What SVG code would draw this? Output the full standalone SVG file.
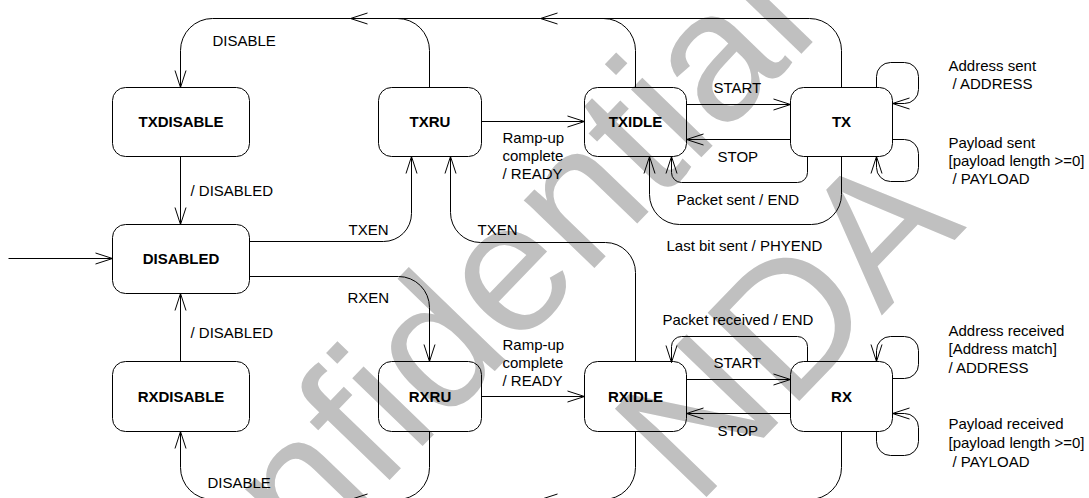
<svg xmlns="http://www.w3.org/2000/svg" width="1089" height="498" viewBox="0 0 1089 498">
<style>
.n{fill:none;stroke:#000;stroke-width:1}
.c{fill:none;stroke:#000;stroke-width:1}
.nl{font-family:"Liberation Sans",Arial,sans-serif;font-size:15px;font-weight:bold;text-anchor:middle;fill:#000}
.l{font-family:"Liberation Sans",Arial,sans-serif;font-size:15px;fill:#000}
.wm{font-family:"Liberation Sans",Arial,sans-serif;font-size:185px;fill:#c0c0c0}
</style>
<defs>
<marker id="a" markerUnits="userSpaceOnUse" orient="auto" markerWidth="40" markerHeight="40" viewBox="-20 -20 40 40" refX="0" refY="0" overflow="visible">
<path d="M-17,-5.5 L0,0 L-17,5.5" fill="none" stroke="#000" stroke-width="1"/>
</marker>
</defs>
<rect width="1089" height="498" fill="#fff"/>
<g id="watermark">
<text class="wm" transform="translate(142.5,736) rotate(-46)">Confidential</text>
<text class="wm" transform="translate(696,508) rotate(-46)">NDA</text>
</g>
<g transform="translate(0.5,0.5)">
<g id="connectors">
<path class="c" d="M8,258 H112" marker-end="url(#a)"/>
<path class="c" d="M180,156 V224" marker-end="url(#a)"/>
<path class="c" d="M180,361 V293" marker-end="url(#a)"/>
<path class="c" d="M249,241 H383 A28,28 0 0 0 411,213 V156" marker-end="url(#a)"/>
<path class="c" d="M249,276 H398 A31,31 0 0 1 429,307 V361" marker-end="url(#a)"/>
<path class="c" d="M635,361 V272 A30,30 0 0 0 605,242 H480 A30,30 0 0 1 450,212 V156" marker-end="url(#a)"/>
<path class="c" d="M481,121 H584" marker-end="url(#a)"/>
<path class="c" d="M481,396 H584" marker-end="url(#a)"/>
<path class="c" d="M686,104 H790" marker-end="url(#a)"/>
<path class="c" d="M790,139 H686" marker-end="url(#a)"/>
<path class="c" d="M686,379 H790" marker-end="url(#a)"/>
<path class="c" d="M790,413 H686" marker-end="url(#a)"/>
<path class="c" d="M807,156 V172 A10,10 0 0 1 797,182 H681 A10,10 0 0 1 671,172 V156" marker-end="url(#a)"/>
<path class="c" d="M841,156 V194 A30,30 0 0 1 811,224 H679 A30,30 0 0 1 649,194 V156" marker-end="url(#a)"/>
<path class="c" d="M807,361 V346 A10,10 0 0 0 797,336 H681 A10,10 0 0 0 671,346 V362" marker-end="url(#a)"/>
<path class="c" d="M841,87 V50 A32,32 0 0 0 809,18 H540" marker-end="url(#a)"/>
<path class="c" d="M635,87 V50 A32,32 0 0 0 603,18"/>
<path class="c" d="M540,18 H350" marker-end="url(#a)"/>
<path class="c" d="M429,87 V50 A32,32 0 0 0 397,18"/>
<path class="c" d="M350,18 H212 A32,32 0 0 0 180,50 V87" marker-end="url(#a)"/>
<path class="c" d="M841,431 V467 A32,32 0 0 1 809,499 H540" marker-end="url(#a)"/>
<path class="c" d="M635,431 V467 A32,32 0 0 1 603,499"/>
<path class="c" d="M540,499 H350" marker-end="url(#a)"/>
<path class="c" d="M429,431 V467 A32,32 0 0 1 397,499"/>
<path class="c" d="M350,499 H212 A32,32 0 0 1 180,467 V431" marker-end="url(#a)"/>
<path class="c" d="M876,87 V76 A14,14 0 0 1 890,62 H904 A14,14 0 0 1 918,76 V89 A14,14 0 0 1 904,103 H892" marker-end="url(#a)"/>
<path class="c" d="M892,139 H904 A14,14 0 0 1 918,153 V167 A14,14 0 0 1 904,181 H890 A14,14 0 0 1 876,167 V156" marker-end="url(#a)"/>
<path class="c" d="M892,378 H904 A14,14 0 0 0 918,364 V350 A14,14 0 0 0 904,336 H890 A14,14 0 0 0 876,350 V361" marker-end="url(#a)"/>
<path class="c" d="M876,431 V441 A14,14 0 0 0 890,455 H904 A14,14 0 0 0 918,441 V427 A14,14 0 0 0 904,413 H892" marker-end="url(#a)"/>
</g>
<g id="labels">
<text class="l" x="212" y="45">DISABLE</text>
<text class="l" x="190" y="195">/ DISABLED</text>
<text class="l" x="348" y="234">TXEN</text>
<text class="l" x="477" y="234">TXEN</text>
<text class="l" x="347" y="302">RXEN</text>
<text class="l" x="190" y="337">/ DISABLED</text>
<text class="l" x="207" y="487">DISABLE</text>
<text class="l" x="502" y="142">Ramp-up</text>
<text class="l" x="502" y="160">complete</text>
<text class="l" x="502" y="178">/ READY</text>
<text class="l" x="502" y="349">Ramp-up</text>
<text class="l" x="502" y="367">complete</text>
<text class="l" x="502" y="385">/ READY</text>
<text class="l" x="713" y="92">START</text>
<text class="l" x="717" y="161">STOP</text>
<text class="l" x="676" y="204">Packet sent / END</text>
<text class="l" x="666" y="250">Last bit sent / PHYEND</text>
<text class="l" x="662" y="324">Packet received / END</text>
<text class="l" x="713" y="367">START</text>
<text class="l" x="717" y="435">STOP</text>
<text class="l" x="948" y="70">Address sent</text>
<text class="l" x="952" y="88">/ ADDRESS</text>
<text class="l" x="948" y="147">Payload sent</text>
<text class="l" x="948" y="165">[payload length &gt;=0]</text>
<text class="l" x="952" y="183">/ PAYLOAD</text>
<text class="l" x="948" y="335">Address received</text>
<text class="l" x="948" y="353">[Address match]</text>
<text class="l" x="948" y="372">/ ADDRESS</text>
<text class="l" x="948" y="428">Payload received</text>
<text class="l" x="948" y="447">[payload length &gt;=0]</text>
<text class="l" x="952" y="466">/ PAYLOAD</text>
</g>
<g id="TXDISABLE"><rect class="n" x="112" y="87" width="137" height="69" rx="13"/><text class="nl" x="180.5" y="126.5">TXDISABLE</text></g>
<g id="TXRU"><rect class="n" x="378" y="87" width="103" height="69" rx="13"/><text class="nl" x="429.5" y="126.5">TXRU</text></g>
<g id="TXIDLE"><rect class="n" x="584" y="87" width="102" height="69" rx="13"/><text class="nl" x="635" y="126.5">TXIDLE</text></g>
<g id="TX"><rect class="n" x="790" y="87" width="102" height="69" rx="13"/><text class="nl" x="841" y="126.5">TX</text></g>
<g id="DISABLED"><rect class="n" x="112" y="224" width="137" height="69" rx="13"/><text class="nl" x="180.5" y="263.5">DISABLED</text></g>
<g id="RXDISABLE"><rect class="n" x="112" y="361" width="137" height="70" rx="13"/><text class="nl" x="180.5" y="401">RXDISABLE</text></g>
<g id="RXRU"><rect class="n" x="378" y="361" width="103" height="70" rx="13"/><text class="nl" x="429.5" y="401">RXRU</text></g>
<g id="RXIDLE"><rect class="n" x="584" y="361" width="102" height="70" rx="13"/><text class="nl" x="635" y="401">RXIDLE</text></g>
<g id="RX"><rect class="n" x="790" y="361" width="102" height="70" rx="13"/><text class="nl" x="841" y="401">RX</text></g>
</g>
</svg>
